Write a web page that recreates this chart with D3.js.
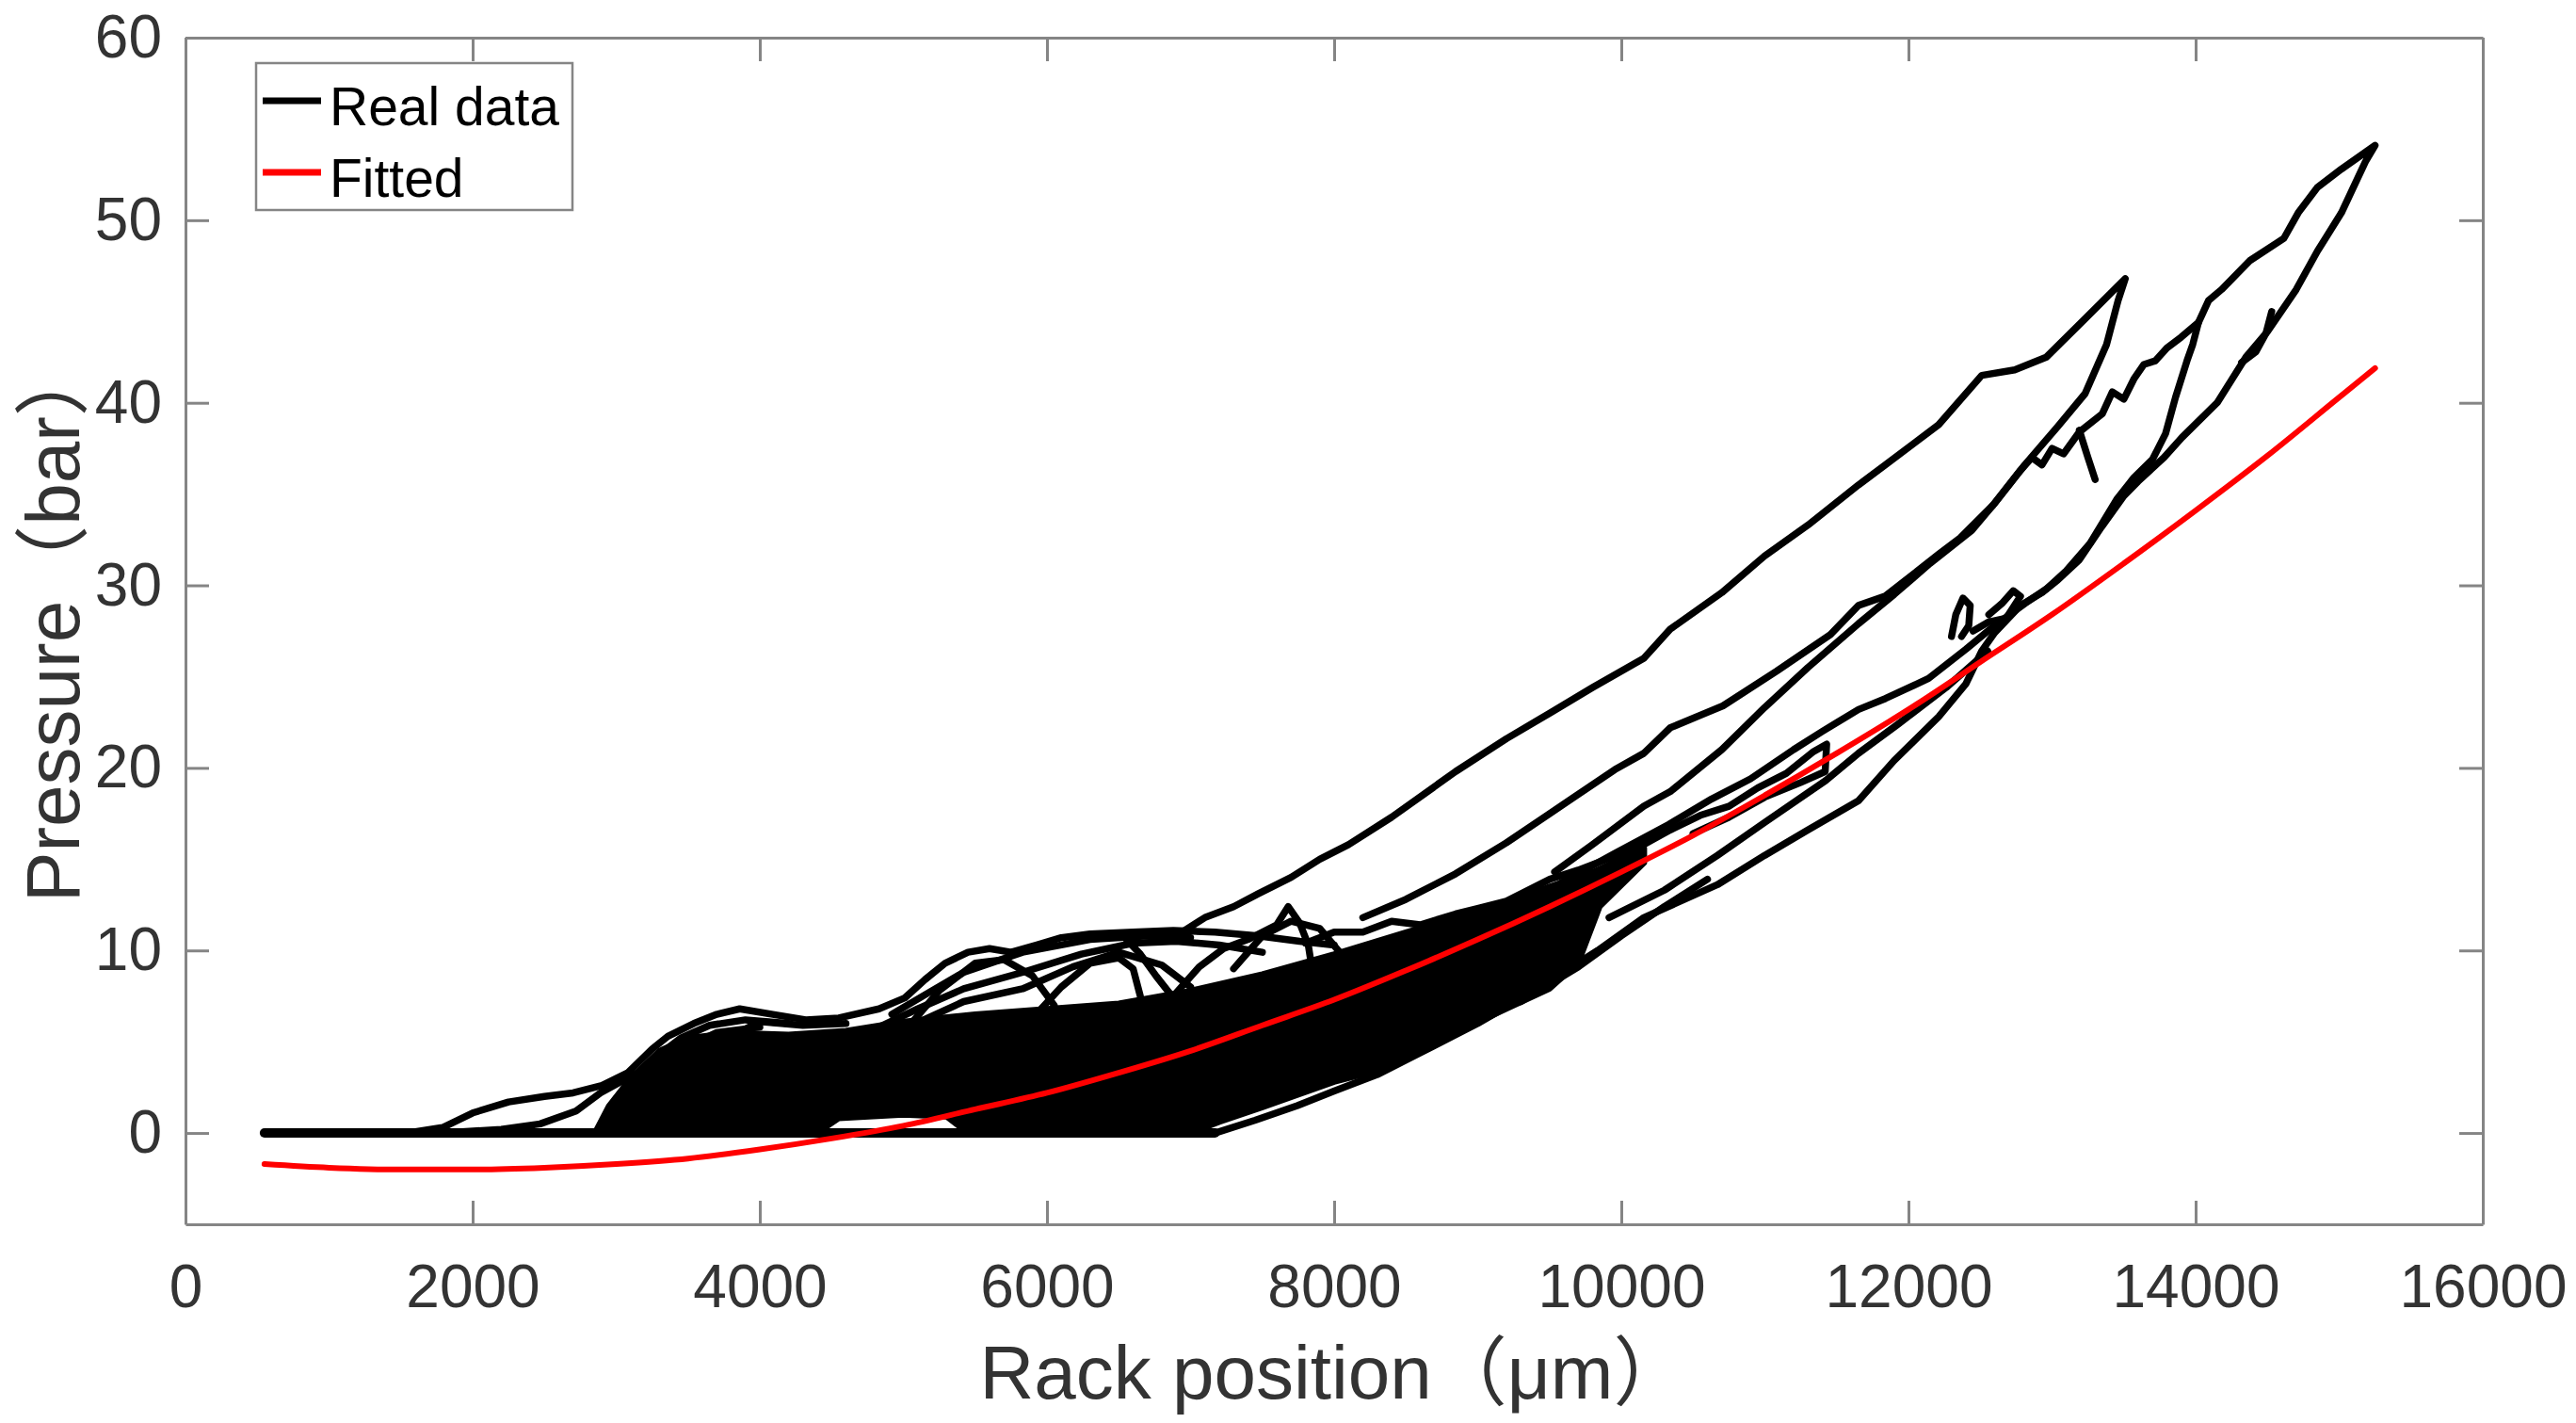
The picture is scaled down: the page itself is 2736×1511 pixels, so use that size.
<!DOCTYPE html>
<html>
<head>
<meta charset="utf-8">
<script src="https://cdn.jsdelivr.net/npm/d3@7/dist/d3.min.js"></script>
<style>
  html, body { margin: 0; padding: 0; background: #ffffff; }
  svg { display: block; }
</style>
</head>
<body>
<div id="my_chart"></div>
<script>
/*
------------------------
DATA: values (rack position in um, pressure in bar)
------------------------
*/
var xTicks = [0, 2000, 4000, 6000, 8000, 10000, 12000, 14000, 16000];
var yTicks = [0, 10, 20, 30, 40, 50, 60];

// fitted curve
var fittedX = [550, 1000, 1500, 2000, 2500, 3000, 3500, 4000, 4500, 5000, 5500, 6000, 6500, 7000, 7500, 8000,
  8500, 9000, 9500, 10000, 10500, 11000, 11500, 12000, 12500, 13000, 13500, 14000, 14500, 15000, 15250];
var fittedY = [-1.7, -1.9, -2.0, -2.0, -1.9, -1.7, -1.4, -0.9, -0.3, 0.4, 1.3, 2.2, 3.3, 4.5, 5.9, 7.3,
  8.9, 10.6, 12.4, 14.3, 16.3, 18.5, 20.8, 23.2, 25.8, 28.4, 31.2, 34.1, 37.1, 40.3, 41.9];

// dense part of the real data, upper and lower edge
var coreUpper = [[2850, 0], [2950, 1.5], [3100, 3.0], [3300, 4.5], [3500, 5.2], [3800, 5.5], [4200, 5.4],
  [4600, 5.6], [5000, 6.1], [5500, 6.5], [6000, 6.8], [6500, 7.1], [7000, 7.8], [7500, 8.7], [8000, 9.8],
  [8500, 11.0], [8846, 11.8], [9200, 12.6], [9500, 13.5], [9800, 14.3], [10160, 15.6]];
var coreLower = [[2850, 0], [4400, 0], [4550, 0.8], [5000, 1.0], [5300, 0.9], [5450, 0], [7000, 0],
  [7200, 0.6], [7500, 1.4], [7750, 2.1], [8000, 2.8], [8300, 3.4], [8600, 4.5], [8846, 5.5], [9200, 6.8],
  [9500, 7.9], [9700, 9.3], [9850, 12.4], [10160, 14.8]];

// individual traces of the real data
var baseRun = [[550, 0], [3000, 0], [5000, 0], [7170, 0]];
var humpOuter = [[1550, 0], [1790, 0.3], [2000, 1.1], [2250, 1.7], [2500, 2.0], [2700, 2.2], [2900, 2.6],
  [3080, 3.3], [3250, 4.6], [3360, 5.3], [3540, 6.0], [3700, 6.5], [3860, 6.8], [4090, 6.5], [4320, 6.2],
  [4550, 6.3], [4830, 6.8], [5010, 7.4], [5150, 8.4], [5290, 9.3], [5450, 9.9], [5600, 10.1], [5750, 9.9],
  [5930, 10.3], [6100, 10.7], [6300, 10.9], [6600, 11.0], [6880, 11.1], [7170, 11.0], [7470, 10.8],
  [7760, 10.5], [8000, 10.3]];
var humpInner = [[1800, 0], [2200, 0.2], [2470, 0.5], [2720, 1.2], [2890, 2.2], [3100, 3.1], [3300, 3.9],
  [3500, 4.5], [3800, 4.9]];
var strandA = [[2950, 0.6], [3150, 2.8], [3300, 4.3], [3450, 5.2], [3650, 5.9], [3900, 6.2], [4200, 6.0]];
var strandB = [[3000, 0.3], [3250, 3.0], [3450, 4.6], [3700, 5.5], [4000, 5.8]];
var strandC = [[3350, 0], [3500, 2.5], [3650, 4.3], [3800, 5.3], [4000, 6.1], [4300, 5.9], [4600, 6.0]];
var archA = [[4830, 5.8], [5100, 6.8], [5420, 7.9], [5830, 8.8], [6240, 9.8], [6600, 10.4], [6900, 10.5],
  [7200, 10.3], [7500, 9.9]];
var archB = [[4920, 6.5], [5200, 7.8], [5420, 8.8], [5830, 9.9], [6300, 10.6], [6700, 10.8], [7000, 10.7]];
var archC = [[4890, 5.3], [5420, 7.2], [5830, 7.9], [6180, 9.1], [6500, 9.9], [6800, 9.2], [7000, 8.0]];
var archD = [[5900, 6.3], [6100, 8.0], [6300, 9.3], [6500, 9.6], [6600, 9.0], [6650, 7.5]];
var archE = [[6530, 10.8], [6650, 9.8], [6760, 8.6], [6880, 7.4]];
var archF = [[6880, 7.5], [7060, 9.1], [7230, 10.1], [7400, 10.6], [7600, 11.4], [7680, 12.4], [7760, 11.5],
  [7820, 10.3], [7850, 8.8]];
var archG = [[5000, 5.5], [5250, 7.8], [5500, 9.3], [5700, 9.5], [5900, 8.6], [6050, 7.0]];
var archH = [[7300, 9.0], [7500, 10.8], [7700, 11.6], [7900, 11.2], [8050, 9.8]];
var blobEdge = [[7800, 10.4], [8000, 11.0], [8200, 11.0], [8400, 11.6], [8600, 11.4], [8846, 12.0],
  [9000, 12.3], [9200, 12.7], [9502, 13.9], [9700, 14.4], [9900, 15.0], [10157, 15.8], [10341, 16.6],
  [10550, 17.4], [10750, 17.9], [10950, 18.9], [11150, 19.7], [11340, 20.9], [11430, 21.3], [11420, 19.8],
  [11250, 19.2], [11000, 18.4], [10750, 17.3], [10500, 16.4]];
var loopTop = [[6900, 10.8], [7100, 11.8], [7300, 12.4], [7470, 13.1], [7700, 14.0], [7900, 15.0],
  [8100, 15.8], [8400, 17.3], [8846, 19.8], [9200, 21.6], [9502, 23.0], [9800, 24.4], [10157, 26.0],
  [10341, 27.6], [10700, 29.6], [10997, 31.6], [11300, 33.3], [11652, 35.5], [11840, 36.6], [12210, 38.8],
  [12510, 41.5], [12740, 41.8], [12960, 42.5], [13230, 44.6], [13510, 46.8], [13460, 45.6], [13380, 43.2],
  [13230, 40.5], [13040, 38.7], [12810, 36.6], [12590, 34.4], [12360, 32.6], [12210, 31.7], [11836, 29.4],
  [11652, 28.9], [11456, 27.3], [11082, 25.3], [10708, 23.4], [10341, 22.2], [10157, 20.8], [9954, 19.9],
  [9652, 18.3], [9502, 17.5], [9200, 15.9], [8846, 14.2], [8500, 12.8], [8200, 11.8]];
var loopRight = [[9536, 14.3], [9800, 15.8], [10157, 17.9], [10341, 18.7], [10700, 21.0], [10997, 23.3],
  [11300, 25.5], [11652, 27.9], [11900, 29.5], [12150, 31.2], [12440, 33.0], [12600, 34.5], [12780, 36.3],
  [12860, 37.0], [12930, 36.6], [13000, 37.5], [13080, 37.2], [13190, 38.4], [13350, 39.4], [13420, 40.6],
  [13500, 40.2], [13570, 41.3], [13640, 42.1], [13720, 42.3], [13800, 43.0], [13900, 43.6], [14020, 44.4],
  [14090, 45.6], [14180, 46.2], [14380, 47.8], [14614, 49.0], [14714, 50.4], [14848, 51.8], [15015, 52.8],
  [15250, 54.1], [15182, 53.2], [15015, 50.4], [14848, 48.3], [14700, 46.2], [14500, 43.9], [14350, 42.5],
  [14150, 40.0], [13905, 38.1], [13780, 37.0], [13600, 35.7], [13500, 34.9], [13345, 33.2], [13190, 31.4],
  [13040, 30.3], [12930, 29.6], [12780, 28.9], [12600, 27.4], [12510, 26.4], [12400, 24.6], [12210, 22.8],
  [11900, 20.4], [11652, 18.2], [11300, 16.6], [10997, 15.2], [10669, 13.6], [10157, 11.8], [9836, 10.0],
  [9416, 7.9], [9000, 6.0], [8577, 4.3], [8300, 3.2], [8000, 2.3], [7744, 1.5], [7450, 0.7], [7170, 0]];
var loopMiddle = [[14020, 44.4], [13980, 43.2], [13940, 42.3], [13860, 40.3], [13790, 38.3], [13700, 36.9],
  [13570, 35.9], [13450, 34.7], [13265, 32.3], [13100, 30.8], [12960, 29.8], [12810, 29.0], [12600, 27.8],
  [12400, 26.5], [12140, 24.9], [11840, 23.8], [11652, 23.2], [11400, 22.0], [11200, 21.0], [10900, 19.4],
  [10630, 18.3], [10330, 16.9], [9950, 15.3], [9580, 13.7]];
var lineBelowFit = [[9915, 11.8], [10300, 13.3], [10669, 15.2], [10997, 17.0], [11423, 19.3], [11652, 20.8],
  [11928, 22.4], [12262, 24.4], [12551, 26.4]];
var lineLow = [[9300, 7.2], [9700, 9.1], [10000, 10.8], [10300, 12.4], [10600, 13.9]];
var smallLoopA = [[12300, 27.2], [12330, 28.4], [12380, 29.3], [12430, 28.9], [12420, 27.8], [12370, 27.2]];
var smallLoopB = [[12450, 27.5], [12560, 28.0], [12680, 28.2], [12780, 29.4], [12730, 29.7], [12650, 29.0],
  [12560, 28.4]];
var fragA = [[14530, 45.0], [14490, 43.8], [14420, 42.8], [14320, 42.2]];
var fragB = [[13300, 35.8], [13250, 37.0], [13190, 38.5]];

var realTraces = [baseRun, humpOuter, humpInner, strandA, strandB, strandC, archA, archB, archC, archD,
  archE, archF, archG, archH, blobEdge, loopTop, loopRight, loopMiddle, lineBelowFit, lineLow, smallLoopA,
  smallLoopB, fragA, fragB];

var legendLabels = ["Real data", "Fitted"];
var legendColors = ["#000000", "#ff0000"];

/*
------------------------
METHOD: set the dimensions of the graph
------------------------
*/
var margin = { top: 40, right: 99, bottom: 211, left: 197 },
  width = 2736 - margin.left - margin.right,
  height = 1511 - margin.top - margin.bottom;

var fontFamily = "'Liberation Sans', Arial, 'Noto Sans CJK SC', sans-serif";
var axisGrey = "#858585";
var textGrey = "#333333";

var svg = d3.select("#my_chart")
  .append("svg")
  .attr("width", width + margin.left + margin.right)
  .attr("height", height + margin.top + margin.bottom)
  .append("g")
  .attr("transform", "translate(" + margin.left + "," + margin.top + ")");

var x = d3.scaleLinear()
  .domain([0, 16000])
  .range([0, width]);

var y = d3.scaleLinear()
  .domain([-5, 60])
  .range([height, 0]);

/*
------------------------
METHOD: draw the real data (dense core + every trace)
------------------------
*/
var line = d3.line()
  .x(function(d) { return x(d[0]); })
  .y(function(d) { return y(d[1]); });

var corePolygon = coreUpper.concat(coreLower.slice().reverse());
svg.append("path")
  .datum(corePolygon)
  .attr("d", line.curve(d3.curveLinearClosed))
  .attr("fill", "#000000")
  .attr("stroke", "#000000")
  .attr("stroke-width", 6)
  .attr("stroke-linejoin", "round");

line.curve(d3.curveLinear);

svg.selectAll(".realTrace")
  .data(realTraces)
  .enter()
  .append("path")
  .attr("class", "realTrace")
  .attr("d", line)
  .attr("fill", "none")
  .attr("stroke", "#000000")
  .attr("stroke-width", function(d) { return d === baseRun ? 10 : 7.5; })
  .attr("stroke-linejoin", "round")
  .attr("stroke-linecap", "round");

/*
------------------------
METHOD: draw the fitted curve
------------------------
*/
var fittedData = fittedX.map(function(d, i) { return [d, fittedY[i]]; });
svg.append("path")
  .datum(fittedData)
  .attr("d", d3.line()
    .x(function(d) { return x(d[0]); })
    .y(function(d) { return y(d[1]); })
    .curve(d3.curveMonotoneX))
  .attr("fill", "none")
  .attr("stroke", "#ff0000")
  .attr("stroke-width", 6)
  .attr("stroke-linecap", "round");

/*
------------------------
METHOD: axes in a box, ticks pointing inward
------------------------
*/
function styleAxis(g) {
  g.attr("font-family", fontFamily).attr("font-size", 64);
  g.selectAll("path.domain").attr("stroke", axisGrey).attr("stroke-width", 3);
  g.selectAll(".tick line").attr("stroke", axisGrey).attr("stroke-width", 3);
  g.selectAll(".tick text").attr("fill", textGrey);
}

svg.append("g")
  .attr("transform", "translate(0," + height + ")")
  .call(d3.axisBottom(x).tickValues(xTicks).tickFormat(d3.format("d"))
    .tickSizeInner(-25).tickSizeOuter(0).tickPadding(43))
  .call(styleAxis);

svg.append("g")
  .call(d3.axisTop(x).tickValues(xTicks).tickSizeInner(-25).tickSizeOuter(0).tickFormat(""))
  .call(styleAxis);

svg.append("g")
  .call(d3.axisLeft(y).tickValues(yTicks).tickFormat(d3.format("d"))
    .tickSizeInner(-25).tickSizeOuter(0).tickPadding(25))
  .call(styleAxis);

svg.append("g")
  .attr("transform", "translate(" + width + ",0)")
  .call(d3.axisRight(y).tickValues(yTicks).tickSizeInner(-25).tickSizeOuter(0).tickFormat(""))
  .call(styleAxis);

// axis titles
svg.append("text")
  .attr("x", width / 2)
  .attr("y", 1445)
  .attr("text-anchor", "middle")
  .attr("font-family", fontFamily)
  .attr("font-size", 80)
  .attr("fill", textGrey)
  .text("Rack position（μm）");

svg.append("text")
  .attr("transform", "rotate(-90)")
  .attr("x", -height / 2 + 10)
  .attr("y", -113)
  .attr("text-anchor", "middle")
  .attr("font-family", fontFamily)
  .attr("font-size", 80)
  .attr("fill", textGrey)
  .text("Pressure（bar）");

/*
------------------------
METHOD: legend box, top left
------------------------
*/
var legend = svg.append("g")
  .attr("transform", "translate(" + (272 - margin.left) + "," + (67 - margin.top) + ")");

legend.append("rect")
  .attr("width", 336)
  .attr("height", 156)
  .attr("fill", "#ffffff")
  .attr("stroke", axisGrey)
  .attr("stroke-width", 2.5);

var legendRows = legend.selectAll(".legendRow")
  .data(legendLabels)
  .enter()
  .append("g")
  .attr("class", "legendRow")
  .attr("transform", function(d, i) { return "translate(0," + (40 + i * 76) + ")"; });

legendRows.append("line")
  .attr("x1", 7)
  .attr("x2", 69)
  .attr("stroke", function(d, i) { return legendColors[i]; })
  .attr("stroke-width", 7);

legendRows.append("text")
  .attr("x", 78)
  .attr("y", 26)
  .attr("font-family", fontFamily)
  .attr("font-size", 57)
  .attr("fill", "#000000")
  .text(function(d) { return d; });
</script>
</body>
</html>
